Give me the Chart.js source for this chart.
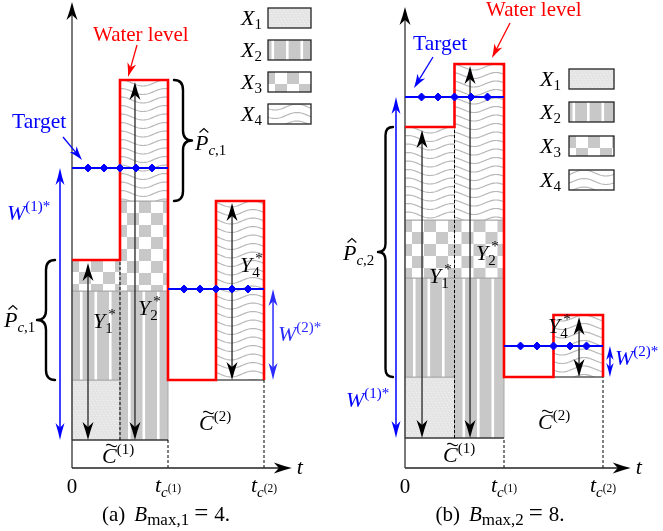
<!DOCTYPE html>
<html><head><meta charset="utf-8">
<script src="https://cdn.jsdelivr.net/npm/chart.js@4.4.0/dist/chart.umd.min.js"></script>
<style>
html,body{margin:0;padding:0;background:#fff;}
#wrap{position:relative;width:663px;height:531px;overflow:hidden;background:#fff;}
canvas{position:absolute;top:0;}
#ca{left:0;} #cb{left:331px;}
#probe{position:absolute;left:-999px;top:0;font-family:"Liberation Serif";}
#probe i{font-style:italic;}
</style></head><body>
<div id="probe">Water <i>XYWPCt</i></div>
<div id="wrap"><canvas id="ca" width="331" height="531"></canvas><canvas id="cb" width="332" height="531"></canvas></div>
<script>
// ---------------- data ----------------
const tTicks = [0, 1, 2];                       // 0, t_c(1), t_c(2)
const tickSubs = ['', '1', '2'];
const colSplit = [0, 0.5, 1, 1.5, 2];           // column boundaries in time
const diamondFrac = [1/6, 2/6, 3/6, 4/6, 5/6];  // target markers inside each period
const seriesNames = ['X1', 'X2', 'X3', 'X4'];

// panel (a): B_max,1 = 4
const aC = [2.8, 8.8];                                   // C~(1), C~(2)
const aCol1 = [['X1', 8.8], ['X2', 17.7], ['X3', 20.8]]; // layer tops, column 1
const aCol2 = [['X2', 17.7], ['X3', 26.7], ['X4', 38.8]];// layer tops, column 2
const aCol4 = [['X4', 26.7]];                            // layer tops, column 4
const aTarget = [30.0, 17.9];

// panel (b): B_max,2 = 8
const bC = [3.0, 9.1];
const bCol1 = [['X1', 9.1], ['X2', 19.0], ['X3', 24.8], ['X4', 34.1]];
const bCol2 = [['X2', 19.0], ['X3', 24.8], ['X4', 40.4]];
const bCol4 = [['X4', 15.3]];
const bTarget = [37.1, 12.2];

// ---------------- layout ----------------
const layoutA = {
  id: 'a', B: '1', Bv: '4', C: aC, col1: aCol1, col2: aCol2, col4: aCol4, target: aTarget,
  pad: {left: 72, right: 67, top: 0, bottom: 63}, yMax: 46.8, yTip: 46.6, xTip: 2.29,
  y1t: 1/6, y2t: 0.656, y4t: 1.667, w1t: -0.125, w2t: 2.094, w2col: '#2b2bff',
  braces: [{xe: 174, xt: 192, from: 'c2top', to: 'c2x3'}, {xe: 55, xt: 37, from: 'c1top', to: 'c1x1'}],
  lbl: {y1: [93, 328], y2: [138, 315], y4: [240, 272], w1: [7, 220], w2: [278, 341],
        pc: [[195, 150], [4, 327]], c1: [102, 463], c2: [199, 430], water: [93, 41], target: [12, 128]},
  targetArrow: [63, 137, 82, 160], waterArrow: [137, 45, 128, 77],
  legend: {x: 268, w: 43, ys: [8, 40, 72, 104], h: 20, lx: 262},
  caption: [166, 521], tickBase: 493
};
const layoutB = {
  id: 'b', B: '2', Bv: '8', C: bC, col1: bCol1, col2: bCol2, col4: bCol4, target: bTarget,
  pad: {left: 74, right: 60, top: 0, bottom: 63}, yMax: 46.8, yTip: 46.1, xTip: 2.28,
  y1t: 0.172, y2t: 0.657, y4t: 1.758, w1t: -0.091, w2t: 2.07, w2col: '#0000ff',
  braces: [{xe: 62, xt: 47, from: 'c1top', to: 'c1x1'}],
  lbl: {y1: [98, 283], y2: [145, 260], y4: [217, 333], w1: [15, 407], w2: [284, 365],
        pc: [[12, 260]], c1: [112, 462], c2: [207, 429], water: [155, 16], target: [82, 50]},
  targetArrow: [102, 57, 83, 88], waterArrow: [179, 23, 161, 58],
  legend: {x: 238, w: 45, ys: [69, 102, 136, 170], h: 20, lx: 230},
  caption: [169, 521], tickBase: 493
};

// ---------------- drawing helpers ----------------
const SERIF = '"Liberation Serif","DejaVu Serif","Times New Roman",serif';
const MS = 22, SS = 15;
function setFont(ctx, sz, it) { ctx.font = (it ? 'italic ' : 'normal ') + sz + 'px ' + SERIF; }
const I = (s, o = {}) => Object.assign({s, it: true, sz: MS}, o);
const R = (s, o = {}) => Object.assign({s, it: false, sz: MS}, o);
const SUB = (s, it = false, o = {}) => Object.assign({s, it, sz: SS, dy: 5}, o);
const SUP = (s, o = {}) => Object.assign({s, it: false, sz: SS, dy: -8}, o);

function tokW(ctx, t) { setFont(ctx, t.sz, t.it); return ctx.measureText(t.s).width + (t.dx || 0); }
function mathWidth(ctx, toks) {
  let w = 0, i = 0;
  while (i < toks.length) {
    let tw = tokW(ctx, toks[i]);
    if (toks[i].stack) { tw = Math.max(tw, tokW(ctx, toks[i + 1])); i += 2; } else i++;
    w += tw;
  }
  return w;
}
function accent(ctx, kind, cx, y, sz) {
  ctx.save(); ctx.lineWidth = 1.1; ctx.beginPath();
  if (kind === 'hat') {
    ctx.moveTo(cx - sz * 0.2, y); ctx.lineTo(cx, y - sz * 0.18); ctx.lineTo(cx + sz * 0.2, y);
  } else {
    const w = sz * 0.24;
    ctx.moveTo(cx - w, y); ctx.bezierCurveTo(cx - w * 0.4, y - sz * 0.2, cx + w * 0.4, y + sz * 0.2, cx + w, y);
  }
  ctx.stroke(); ctx.restore();
}
function drawMath(ctx, toks, x, y, align, color) {
  const w = mathWidth(ctx, toks);
  let cx = align === 'center' ? x - w / 2 : align === 'right' ? x - w : x;
  ctx.save(); ctx.fillStyle = color; ctx.strokeStyle = color; ctx.textBaseline = 'alphabetic'; ctx.textAlign = 'left';
  const one = (t) => {
    setFont(ctx, t.sz, t.it);
    const bx = cx + (t.dx || 0), by = y + (t.dy || 0);
    ctx.fillText(t.s, bx, by);
    const tw = ctx.measureText(t.s).width;
    if (t.acc) accent(ctx, t.acc, bx + tw / 2 + (t.it ? t.sz * 0.1 : 0), by - t.sz * 0.66 - 3, t.sz);
    return tw + (t.dx || 0);
  };
  let i = 0;
  while (i < toks.length) {
    let tw = one(toks[i]);
    if (toks[i].stack) { tw = Math.max(tw, one(toks[i + 1])); i += 2; } else i++;
    cx += tw;
  }
  ctx.restore();
}
const Xsym = n => [I('X'), SUB(String(n), false, {dy: 4})];
const Ystar = n => [I('Y'), SUP('*', {stack: true, dx: 3, dy: -9}), SUB(String(n), false, {dy: 5})];
const Wsym = n => [I('W'), SUP('(' + n + ')*', {dy: -9})];
const Phat = n => [I('P', {acc: 'hat'}), SUB('c', true), SUB(',' + n)];
const Ctil = n => [I('C', {acc: 'tilde'}), SUP('(' + n + ')', {dy: -9})];
const tcSym = n => [I('t'), SUB('c', true, {dy: 5}), {s: '(' + n + ')', it: false, sz: 11.5, dy: 0}];
const caption = (id, b, v) => [R('(' + id + ')', {sz: 21}), I('B', {sz: 21, dx: 9}), SUB('max,' + b, false, {sz: 17, dy: 4}),
  R('=', {sz: 25, dx: 5}), R(v + '.', {sz: 21, dx: 6})];

function arrowHead(ctx, x, y, ang, len, wid, color) {
  ctx.save(); ctx.translate(x, y); ctx.rotate(ang); ctx.fillStyle = color;
  ctx.beginPath(); ctx.moveTo(0, 0);
  ctx.quadraticCurveTo(-len * 0.5, -wid * 0.2, -len, -wid / 2);
  ctx.lineTo(-len * 0.72, 0);
  ctx.lineTo(-len, wid / 2);
  ctx.quadraticCurveTo(-len * 0.5, wid * 0.2, 0, 0);
  ctx.closePath(); ctx.fill(); ctx.restore();
}
function arrowLine(ctx, x1, y1, x2, y2, o) {
  const L = Math.hypot(x2 - x1, y2 - y1), ux = (x2 - x1) / L, uy = (y2 - y1) / L;
  const ang = Math.atan2(uy, ux);
  const len = Math.min(o.len, o.both ? L * 0.45 : L * 0.8), wid = o.wid * len / o.len;
  const ins = len * 0.7;
  const sx = o.both ? x1 + ux * ins : x1, sy = o.both ? y1 + uy * ins : y1;
  ctx.save(); ctx.strokeStyle = o.color; ctx.lineWidth = o.lw; ctx.beginPath();
  ctx.moveTo(sx, sy); ctx.lineTo(x2 - ux * ins, y2 - uy * ins); ctx.stroke(); ctx.restore();
  arrowHead(ctx, x2, y2, ang, len, wid, o.head || o.color);
  if (o.both) arrowHead(ctx, x1, y1, ang + Math.PI, len, wid, o.head || o.color);
}
function brace(ctx, xe, xt, y0, y1) {
  const d = xt - xe, xs = xe + d / 2, ym = (y0 + y1) / 2, r = Math.abs(d) * 0.55;
  ctx.save(); ctx.strokeStyle = '#000'; ctx.lineWidth = 2.4; ctx.lineCap = 'round'; ctx.lineJoin = 'round';
  ctx.beginPath();
  ctx.moveTo(xe, y0);
  ctx.quadraticCurveTo(xs, y0, xs, y0 + r);
  ctx.lineTo(xs, ym - r);
  ctx.quadraticCurveTo(xs, ym, xt, ym);
  ctx.quadraticCurveTo(xs, ym, xs, ym + r);
  ctx.lineTo(xs, y1 - r);
  ctx.quadraticCurveTo(xs, y1, xe, y1);
  ctx.stroke(); ctx.restore();
}
function fillPattern(ctx, name, x0, y0, x1, y1, phase) {
  ctx.save(); ctx.beginPath(); ctx.rect(x0, y0, x1 - x0, y1 - y0); ctx.clip();
  if (name === 'X1') {
    ctx.fillStyle = '#e4e4e4'; ctx.fillRect(x0, y0, x1 - x0, y1 - y0);
    ctx.fillStyle = 'rgba(255,255,255,0.55)';
    let r = 0;
    for (let y = y0; y < y1; y += 2.5, r++)
      for (let x = x0 + (r % 3) * 1.2; x < x1; x += 3.6) ctx.fillRect(x, y, 1.2, 1);
  } else if (name === 'X2') {
    ctx.fillStyle = '#c8c8c8'; ctx.fillRect(x0, y0, x1 - x0, y1 - y0);
    ctx.fillStyle = '#ffffff';
    for (let x = x0 + phase; x < x1; x += 14.5) ctx.fillRect(x, y0, 2.6, y1 - y0);
  } else if (name === 'X3') {
    ctx.fillStyle = '#ffffff'; ctx.fillRect(x0, y0, x1 - x0, y1 - y0);
    ctx.fillStyle = '#c8c8c8';
    const c = 12;
    for (let j = 0; y0 + j * c < y1; j++)
      for (let i = 0; x0 - 5 + i * c < x1; i++)
        if ((i + j) % 2 === 0) ctx.fillRect(x0 - 5 + i * c, y0 + j * c, c, c);
  } else if (name === 'X4') {
    ctx.fillStyle = '#ffffff'; ctx.fillRect(x0, y0, x1 - x0, y1 - y0);
    ctx.strokeStyle = '#b8b8b8'; ctx.lineWidth = 1.2;
    for (let y = y0 + 3; y < y1 + 5; y += 8.5) {
      ctx.beginPath();
      for (let x = x0 - 2; x <= x1 + 2; x += 1) {
        const yy = y + 3 * Math.sin(2 * Math.PI * x / 44);
        if (x === x0 - 2) ctx.moveTo(x, yy); else ctx.lineTo(x, yy);
      }
      ctx.stroke();
    }
  }
  ctx.restore();
}
function drawColumn(ctx, x0, x1, yBase, layers, Y) {
  let yb = yBase;
  layers.forEach(([name, top]) => {
    const yt = Y(top);
    fillPattern(ctx, name, x0, yt, x1, yb, 8);
    ctx.save(); ctx.strokeStyle = '#a8a8a8'; ctx.lineWidth = 1; ctx.strokeRect(x0, yt, x1 - x0, yb - yt); ctx.restore();
    yb = yt;
  });
}
function vline(ctx, x, ya, yb, dash, color, lw) {
  ctx.save(); ctx.strokeStyle = color; ctx.lineWidth = lw; ctx.setLineDash(dash);
  ctx.beginPath(); ctx.moveTo(x, ya); ctx.lineTo(x, yb); ctx.stroke(); ctx.restore();
}
function hline(ctx, xa, xb, y, color, lw) {
  ctx.save(); ctx.strokeStyle = color; ctx.lineWidth = lw;
  ctx.beginPath(); ctx.moveTo(xa, y); ctx.lineTo(xb, y); ctx.stroke(); ctx.restore();
}
const lastTop = col => col[col.length - 1][1];
const layerTop = (col, name) => col.find(l => l[0] === name)[1];

// ---------------- chart per panel ----------------
function makePanel(canvasId, P) {
  const top1 = lastTop(P.col1), top2 = lastTop(P.col2), top4 = lastTop(P.col4);
  const water = [
    {x: colSplit[0], y: top1}, {x: colSplit[1], y: top1}, {x: colSplit[1], y: top2}, {x: colSplit[2], y: top2},
    {x: colSplit[2], y: P.C[1]}, {x: colSplit[3], y: P.C[1]}, {x: colSplit[3], y: top4}, {x: colSplit[4], y: top4},
    {x: colSplit[4], y: P.C[1]}
  ];
  const targetPts = k => [{x: k, y: P.target[k]}].concat(diamondFrac.map(f => ({x: k + f, y: P.target[k]})), [{x: k + 1, y: P.target[k]}]);
  const tDs = k => ({
    data: targetPts(k), borderColor: '#0000ff', borderWidth: 2, backgroundColor: '#0000ff',
    pointStyle: 'rectRot', pointBackgroundColor: '#0000ff', pointBorderColor: '#0000ff', pointBorderWidth: 1,
    pointRadius: c => (c.dataIndex === 0 || c.dataIndex === c.dataset.data.length - 1) ? 0 : 4,
    tension: 0, clip: false
  });

  const plugin = {
    id: 'diagram',
    beforeDatasetsDraw(chart) {
      const ctx = chart.ctx;
      const X = v => chart.scales.x.getPixelForValue(v), Y = v => chart.scales.y.getPixelForValue(v);
      const c1 = P.C[0], c2 = P.C[1];
      drawColumn(ctx, X(colSplit[0]), X(colSplit[1]), Y(c1), P.col1, Y);
      drawColumn(ctx, X(colSplit[1]), X(colSplit[2]), Y(c1), P.col2, Y);
      drawColumn(ctx, X(colSplit[3]), X(colSplit[4]), Y(c2), P.col4, Y);
      hline(ctx, X(0), X(1), Y(c1), '#000', 1.2);
      hline(ctx, X(colSplit[3]), X(colSplit[4]), Y(c2), '#333', 1.2);
      vline(ctx, X(colSplit[1]), Y(c1), Y(top1), [3, 2], '#000', 1);
      vline(ctx, X(1), Y(0), Y(c1), [3, 2], '#000', 1);
      vline(ctx, X(2), Y(0), Y(c2), [3, 2], '#000', 1);
      arrowLine(ctx, X(0), Y(0), X(0), Y(P.yTip), {color: '#333', head: '#000', lw: 1.3, len: 18, wid: 11});
      arrowLine(ctx, X(0), Y(0), X(P.xTip), Y(0), {color: '#222', head: '#000', lw: 1.4, len: 18, wid: 11});
      const yo = {color: '#333', head: '#000', lw: 1.4, len: 18, wid: 11, both: true};
      arrowLine(ctx, X(P.y1t), Y(c1), X(P.y1t), Y(top1) + 3, yo);
      arrowLine(ctx, X(P.y2t), Y(c1), X(P.y2t), Y(top2) + 2, yo);
      arrowLine(ctx, X(P.y4t), Y(c2), X(P.y4t), Y(top4) + 2, yo);
      arrowLine(ctx, X(P.w1t), Y(c1), X(P.w1t), Y(P.target[0]), {color: '#0000ff', lw: 1.5, len: 17, wid: 9, both: true});
      arrowLine(ctx, X(P.w2t), Y(P.target[1]), X(P.w2t), Y(c2), {color: P.w2col, lw: 1.5, len: 17, wid: 9, both: true});
    },
    afterDatasetsDraw(chart) {
      const ctx = chart.ctx;
      const X = v => chart.scales.x.getPixelForValue(v), Y = v => chart.scales.y.getPixelForValue(v);
      const L = P.lbl;
      const yref = {c2top: Y(top2), c2x3: Y(layerTop(P.col2, 'X3')), c1top: Y(top1), c1x1: Y(layerTop(P.col1, 'X1'))};
      P.braces.forEach(b => brace(ctx, b.xe, b.xt, yref[b.from], yref[b.to]));
      P.braces.forEach((b, i) => drawMath(ctx, Phat(P.B), L.pc[i][0], L.pc[i][1], 'left', '#000'));
      drawMath(ctx, Ystar(1), L.y1[0], L.y1[1], 'left', '#000');
      drawMath(ctx, Ystar(2), L.y2[0], L.y2[1], 'left', '#000');
      drawMath(ctx, Ystar(4), L.y4[0], L.y4[1], 'left', '#000');
      drawMath(ctx, Wsym(1), L.w1[0], L.w1[1], 'left', '#0000ff');
      drawMath(ctx, Wsym(2), L.w2[0], L.w2[1], 'left', P.w2col);
      drawMath(ctx, Ctil(1), L.c1[0], L.c1[1], 'left', '#000');
      drawMath(ctx, Ctil(2), L.c2[0], L.c2[1], 'left', '#000');
      drawMath(ctx, [R('Water level', {sz: 21})], L.water[0], L.water[1], 'left', '#ff0000');
      drawMath(ctx, [R('Target', {sz: 21.5})], L.target[0], L.target[1], 'left', '#0000ff');
      const ta = P.targetArrow, wa = P.waterArrow;
      arrowLine(ctx, ta[0], ta[1], ta[2], ta[3], {color: '#0000ff', lw: 1.3, len: 14, wid: 9});
      arrowLine(ctx, wa[0], wa[1], wa[2], wa[3], {color: '#ff0000', lw: 1.3, len: 14, wid: 9});
      tTicks.forEach((t, i) => {
        if (i === 0) drawMath(ctx, [R('0', {sz: 21})], X(t), P.tickBase, 'center', '#000');
        else drawMath(ctx, tcSym(tickSubs[i]), X(t), P.tickBase - 1, 'center', '#000');
      });
      drawMath(ctx, [I('t', {sz: 22})], X(P.xTip) + 5, Y(0) + 6, 'left', '#000');
      drawMath(ctx, caption(P.id, P.B, P.Bv), P.caption[0], P.caption[1], 'center', '#000');
      const lg = P.legend;
      seriesNames.forEach((n, i) => {
        const y = lg.ys[i];
        fillPattern(ctx, n, lg.x, y, lg.x + lg.w, y + lg.h, 3.5);
        ctx.save(); ctx.strokeStyle = '#222'; ctx.lineWidth = 1.3; ctx.strokeRect(lg.x, y, lg.w, lg.h); ctx.restore();
        drawMath(ctx, Xsym(i + 1), lg.lx, y + lg.h / 2 + 7, 'right', '#000');
      });
    }
  };

  return new Chart(document.getElementById(canvasId), {
    type: 'line',
    data: {datasets: [tDs(0), tDs(1), {
      data: water, borderColor: '#ff0000', borderWidth: 2.6, pointRadius: 0, tension: 0,
      borderJoinStyle: 'miter', borderCapStyle: 'butt', clip: false, fill: false
    }]},
    options: {
      responsive: false, animation: false, events: [],
      layout: {padding: P.pad, autoPadding: false},
      plugins: {legend: {display: false}, tooltip: {enabled: false}, title: {display: false}},
      scales: {
        x: {type: 'linear', min: 0, max: 2, display: false},
        y: {type: 'linear', min: 0, max: P.yMax, display: false}
      }
    },
    plugins: [plugin]
  });
}
function start() { makePanel('ca', layoutA); makePanel('cb', layoutB); }
const fontReqs = ['21px "Liberation Serif"', 'italic 21px "Liberation Serif"'];
if (document.fonts && document.fonts.load) {
  Promise.all(fontReqs.map(f => document.fonts.load(f))).then(start, start);
} else start();
</script></body></html>
